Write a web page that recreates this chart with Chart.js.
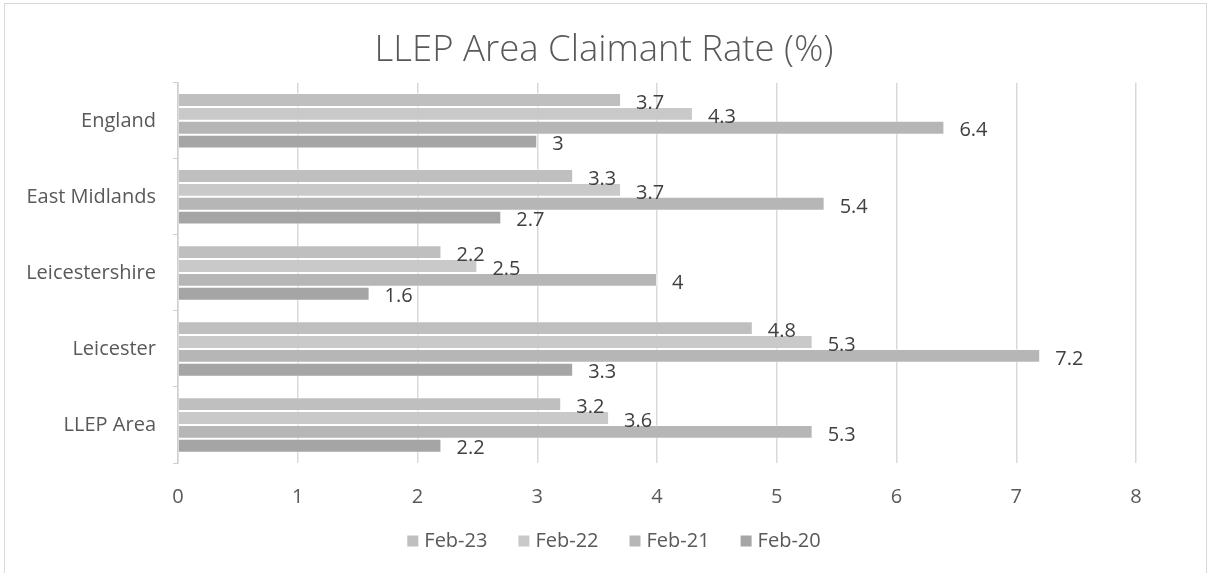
<!DOCTYPE html>
<html>
<head>
<meta charset="utf-8">
<script src="https://cdn.jsdelivr.net/npm/chart.js@4.4.1/dist/chart.umd.min.js"></script>
<style>
  html, body { margin: 0; padding: 0; background: #fff; }
  #wrap { position: relative; width: 1208px; height: 573px; }
  #frame {
    position: absolute; left: 4px; top: 3px; width: 1201px; height: 600px;
    border: 1.5px solid #d9d9d9; pointer-events: none;
  }
</style>
</head>
<body>
<div id="wrap">
  <canvas id="chart" width="1208" height="573"></canvas>
  <div id="frame"></div>
</div>
<script>
/* global Chart */

// Areas, top to bottom as drawn
const AREAS = ['England', 'East Midlands', 'Leicestershire', 'Leicester', 'LLEP Area'];

// Claimant rate (%) per area
const FEB_23 = [3.7, 3.3, 2.2, 4.8, 3.2];
const FEB_22 = [4.3, 3.7, 2.5, 5.3, 3.6];
const FEB_21 = [6.4, 5.4, 4.0, 7.2, 5.3];
const FEB_20 = [3.0, 2.7, 1.6, 3.3, 2.2];

const X_TICKS = [0, 1, 2, 3, 4, 5, 6, 7, 8];

const GREYS = ['#bfbfbf', '#c9c9c9', '#b6b6b6', '#a5a5a5'];
const FONT = "'Open Sans', 'Noto Sans', sans-serif";

// Excel-style value labels just past the bar end
const valueLabels = {
  id: 'valueLabels',
  afterDatasetsDraw(chart) {
    const { ctx } = chart;
    ctx.save();
    ctx.font = '20px ' + FONT;
    ctx.fillStyle = '#404040';
    ctx.textAlign = 'left';
    ctx.textBaseline = 'middle';
    chart.data.datasets.forEach((ds, i) => {
      chart.getDatasetMeta(i).data.forEach((bar, j) => {
        ctx.fillText(String(ds.data[j]), bar.x + 15, bar.y + 3);
      });
    });
    ctx.restore();
  },
};

// Legend row under the axis (Excel spacing: small box, wide gaps between entries)
const bottomLegend = {
  id: 'bottomLegend',
  afterDraw(chart) {
    const { ctx } = chart;
    const box = 11, gapText = 6, gapItem = 31, y = 541;
    ctx.save();
    ctx.font = '20px ' + FONT;
    ctx.textBaseline = 'middle';
    ctx.textAlign = 'left';
    const items = chart.data.datasets.map(ds => ({
      text: ds.label, color: ds.backgroundColor, w: ctx.measureText(ds.label).width,
    }));
    const total = items.reduce((s, it) => s + box + gapText + it.w, 0) + gapItem * (items.length - 1);
    let x = chart.width / 2 + 10 - total / 2;
    items.forEach(it => {
      ctx.fillStyle = it.color;
      ctx.fillRect(x, y - box / 2, box, box);
      ctx.fillStyle = '#595959';
      ctx.fillText(it.text, x + box + gapText, y);
      x += box + gapText + it.w + gapItem;
    });
    ctx.restore();
  },
};

const series = [
  { label: 'Feb-23', data: FEB_23 },
  { label: 'Feb-22', data: FEB_22 },
  { label: 'Feb-21', data: FEB_21 },
  { label: 'Feb-20', data: FEB_20 },
];

const datasets = series.map((s, i) => ({
  ...s,
  backgroundColor: GREYS[i],
  borderColor: 'rgba(255,255,255,0.45)',
  borderWidth: 1,
  barPercentage: 1.0,
  categoryPercentage: 0.73,
}));

new Chart(document.getElementById('chart').getContext('2d'), {
  type: 'bar',
  data: { labels: AREAS, datasets },
  plugins: [valueLabels, bottomLegend],
  options: {
    indexAxis: 'y',
    responsive: false,
    animation: false,
    layout: { padding: { left: 0, right: 0, top: 0, bottom: 42 } },
    plugins: {
      title: {
        display: true,
        text: 'LLEP Area Claimant Rate (%)',
        color: '#595959',
        font: { family: FONT, size: 36.5, weight: 300, lineHeight: 1.2 },
        padding: { top: 29, bottom: 10 },
      },
      legend: { display: false },
      tooltip: { enabled: false },
    },
    scales: {
      x: {
        min: 0,
        max: 8,
        afterBuildTicks: (scale) => { scale.ticks = X_TICKS.map(v => ({ value: v })); },
        grid: { color: '#d9d9d9', lineWidth: 1.5, drawTicks: false },
        border: { display: false },
        ticks: { color: '#595959', font: { family: FONT, size: 20 }, padding: 22 },
      },
      y: {
        afterFit: (scale) => { scale.width = 178; },
        grid: { offset: true, drawOnChartArea: false, color: '#d0d0d0', tickLength: 5 },
        border: { color: '#d0d0d0', width: 1.5 },
        ticks: { color: '#595959', font: { family: FONT, size: 20 }, padding: 17 },
      },
      // empty right-hand strip so the plot ends at 8 while the title stays centred on the page
      yRight: {
        type: 'category',
        position: 'right',
        afterFit: (scale) => { scale.width = 72; },
        grid: { display: false },
        border: { display: false },
        ticks: { display: false },
      },
    },
  },
});
</script>
</body>
</html>
